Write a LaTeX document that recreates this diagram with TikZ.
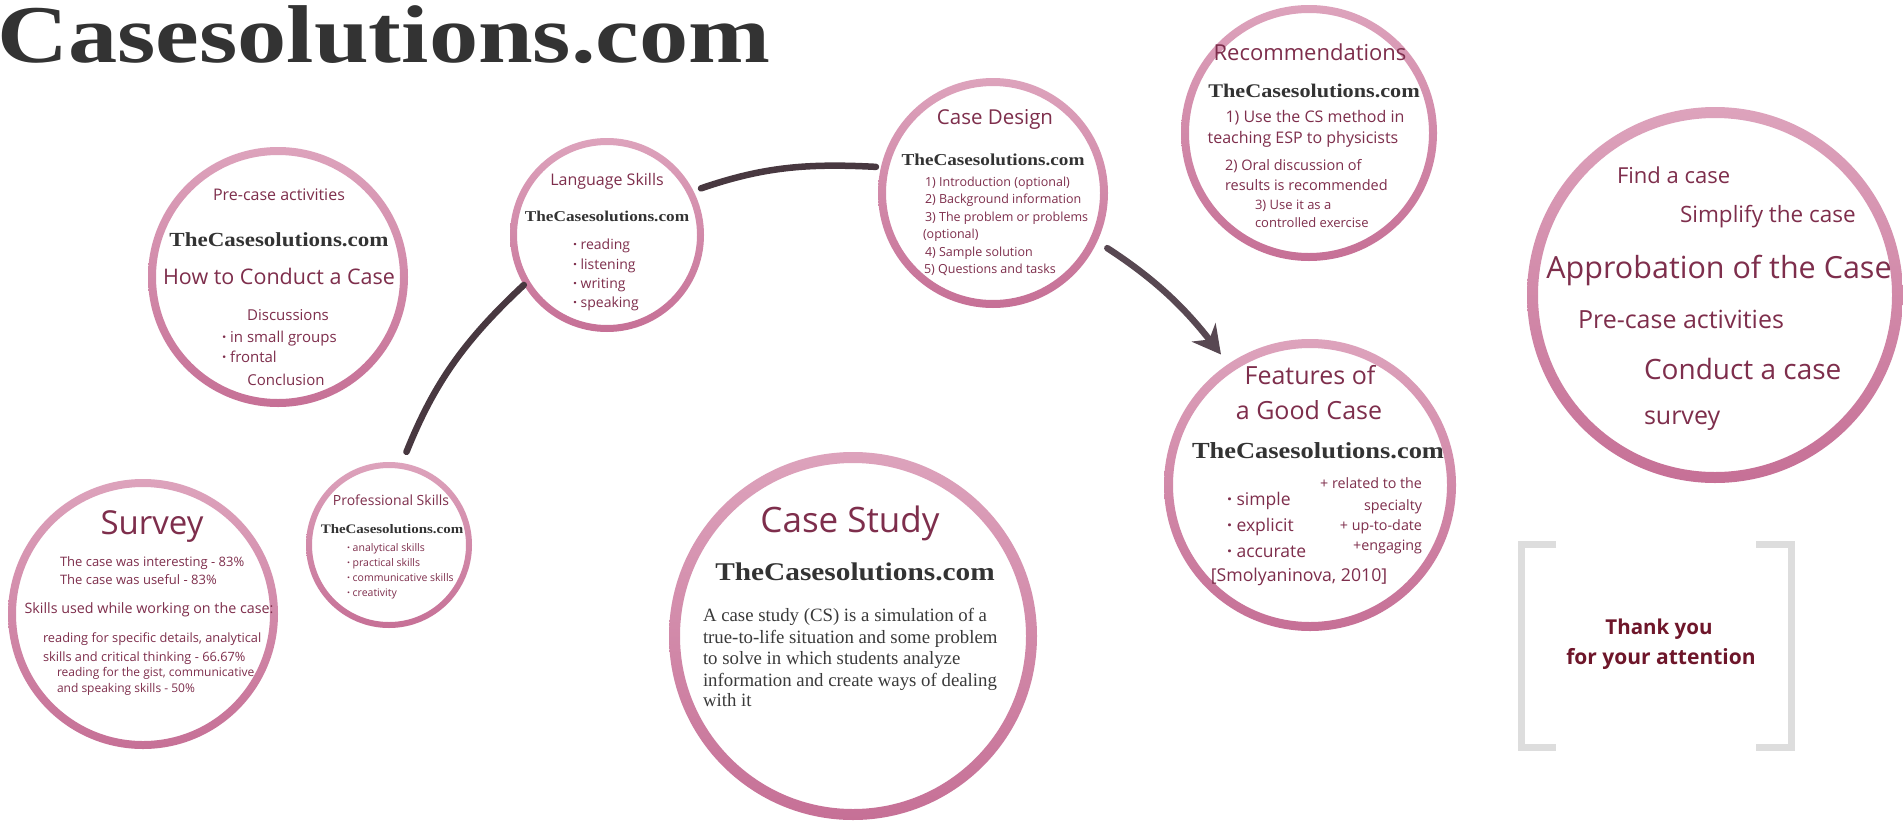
\documentclass[tikz,border=0pt]{standalone}
\usepackage{fontspec}
\setmainfont{Open Sans}
\newfontfamily\serifA{Liberation Serif}
\usetikzlibrary{arrows.meta}
\definecolor{txt}{RGB}{126,46,76}
\definecolor{dark}{RGB}{51,51,51}
\definecolor{para}{RGB}{58,58,58}
\definecolor{ringtop}{RGB}{221,163,188}
\definecolor{ringbot}{RGB}{198,112,150}
\definecolor{conn}{RGB}{72,56,64}
\definecolor{connarrow}{RGB}{88,72,82}
\definecolor{brk}{RGB}{221,221,221}
\definecolor{thx}{RGB}{110,22,42}
\newcommand{\fsz}[1]{\fontsize{#1}{#1}\selectfont}
\newcommand{\tcs}[1]{{\serifA\bfseries\fsz{#1}\color{dark}\scalebox{1.15}[1]{TheCasesolutions.com}}}
\newcommand{\bul}{{\bfseries\textperiodcentered}\ }
\newcommand{\ring}[3]{\shade[top color=ringtop, bottom color=ringbot, even odd rule] (#1.center) circle[radius=#2pt] (#1.center) circle[radius=#2pt-#3pt];}
\tikzset{
  lbl/.style={inner sep=0, outer sep=0, text=txt, anchor=base},
  lw/.style={lbl, anchor=base west},
  le/.style={lbl, anchor=base east},
  circ/.style={circle, inner sep=0, outer sep=0, minimum size=#1},
  conn/.style={draw=conn, line width=6.5pt, line cap=round},
  parafont/.style={lw, text=para, font={\serifA\fsz{18.8}}},
}
\begin{document}
\begin{tikzpicture}[x=1pt, y=1pt]
\clip (0,0) rectangle (1903,-822);
\fill[white] (0,0) rectangle (1903,-822);

% title
\node[inner sep=0, anchor=base west, text=dark] (title) at (-3,-62)
  {\serifA\bfseries\fsz{82}\scalebox{1.2}[1]{Casesolutions.com}};

% circles
\node[circ=260pt] (conduct) at (278,-277) {};
\node[circ=194pt] (lang) at (607,-235) {};
\node[circ=230pt] (design) at (993,-193) {};
\node[circ=256pt] (recom) at (1309,-133) {};
\node[circ=376pt] (approb) at (1715,-295) {};
\node[circ=270pt] (survey) at (143,-614) {};
\node[circ=166pt] (prof) at (389,-545) {};
\node[circ=368pt] (study) at (853,-636) {};
\node[circ=292pt] (feat) at (1310,-485) {};

\ring{conduct}{130}{8}
\ring{lang}{97}{7}
\ring{design}{115}{8}
\ring{recom}{128}{8}
\ring{approb}{188}{11}
\ring{survey}{135}{8}
\ring{prof}{83}{6}
\ring{study}{184}{11}
\ring{feat}{146}{9}

% connectors
\draw[conn, shorten <=12pt] (prof.81) to[out=68, in=223] (lang.211);
\draw[conn, shorten <=8pt, shorten >=5pt] (lang.27) to[out=19, in=177] (design.167);
\draw[conn, draw=connarrow, shorten <=12pt, shorten >=12pt,
  -{Stealth[length=28pt, width=30pt, inset=9pt]}] (design.335) to[out=-33, in=128] (feat.124);

% How to Conduct a Case
\node[lbl, font={\fsz{16}}] (c1a) at (279,-200) {Pre-case activities};
\node[lbl] (c1b) at (279,-246) {\tcs{20}};
\node[lbl, font={\fsz{21.5}}] (c1c) at (279,-284.5) {How to Conduct a Case};
\node[lbl, font={\fsz{15}}] (c1d) at (288,-320) {Discussions};
\node[lw, font={\fsz{15}}] (c1e) at (222,-342) {\bul in small groups};
\node[lw, font={\fsz{15}}] (c1f) at (222,-362) {\bul frontal};
\node[lbl, font={\fsz{15}}] (c1g) at (286,-385) {Conclusion};

% Language Skills
\node[lbl, font={\fsz{16}}] (c2a) at (607,-185) {Language Skills};
\node[lbl] (c2b) at (607,-221) {\tcs{15}};
\node[lw, font={\fsz{14}}] (c2c) at (573,-249) {\bul reading};
\node[lw, font={\fsz{14}}] (c2d) at (573,-269) {\bul listening};
\node[lw, font={\fsz{14}}] (c2e) at (573,-288) {\bul writing};
\node[lw, font={\fsz{14}}] (c2f) at (573,-307) {\bul speaking};

% Case Design
\node[lbl, font={\fsz{20.5}}] (c3a) at (995,-124) {Case Design};
\node[lbl] (c3b) at (993,-165) {\tcs{16.7}};
\node[lw, font={\fsz{12.5}}] (c3c) at (925,-186) {1) Introduction (optional)};
\node[lw, font={\fsz{12.5}}] (c3d) at (925,-203) {2) Background information};
\node[lw, font={\fsz{12.5}}] (c3e) at (925,-221) {3) The problem or problems};
\node[lw, font={\fsz{12.5}}] (c3f) at (923,-238) {(optional)};
\node[lw, font={\fsz{12.5}}] (c3g) at (925,-256) {4) Sample solution};
\node[lw, font={\fsz{12.5}}] (c3h) at (924,-273) {5) Questions and tasks};

% Recommendations
\node[lbl, font={\fsz{22}}] (c4a) at (1310,-60) {Recommendations};
\node[lbl] (c4b) at (1314,-97) {\tcs{19.3}};
\node[lbl, font={\fsz{16}}] (c4c) at (1315,-122) {1) Use the CS method in};
\node[lbl, font={\fsz{16}}] (c4d) at (1303,-143) {teaching ESP to physicists};
\node[lw, font={\fsz{14.5}}] (c4e) at (1225,-170) {2) Oral discussion of};
\node[lw, font={\fsz{14.5}}] (c4f) at (1225,-190) {results is recommended};
\node[lw, font={\fsz{13}}] (c4g) at (1255,-209) {3) Use it as a};
\node[lw, font={\fsz{13}}] (c4h) at (1255,-227) {controlled exercise};

% Approbation of the Case
\node[lw, font={\fsz{22}}] (c5a) at (1617,-183) {Find a case};
\node[lw, font={\fsz{22.5}}] (c5b) at (1680,-222) {Simplify the case};
\node[lbl, font={\fsz{30.5}}] (c5c) at (1719,-278) {Approbation of the Case};
\node[lw, font={\fsz{25}}] (c5d) at (1578,-328) {Pre-case activities};
\node[lw, font={\fsz{28}}] (c5e) at (1644,-379) {Conduct a case};
\node[lw, font={\fsz{25}}] (c5f) at (1644,-424) {survey};

% Survey
\node[lbl, font={\fsz{33}}] (c6a) at (152,-534) {Survey};
\node[lw, font={\fsz{13}}] (c6b) at (60,-566) {The case was interesting - 83\%};
\node[lw, font={\fsz{13}}] (c6c) at (60,-584) {The case was useful - 83\%};
\node[lbl, font={\fsz{14.3}}] (c6d) at (149,-613) {Skills used while working on the case:};
\node[lw, font={\fsz{12.8}}] (c6e) at (43,-642) {reading for specific details, analytical};
\node[lw, font={\fsz{12.8}}] (c6f) at (43,-661) {skills and critical thinking - 66.67\%};
\node[lw, font={\fsz{12}}] (c6g) at (57,-676) {reading for the gist, communicative};
\node[lw, font={\fsz{12}}] (c6h) at (57,-692) {and speaking skills - 50\%};

% Professional Skills
\node[lbl, font={\fsz{14}}] (c7a) at (391,-505) {Professional Skills};
\node[lbl] (c7b) at (392,-533.5) {\tcs{13}};
\node[lw, font={\fsz{10.5}}] (c7c) at (347,-551) {\bul analytical skills};
\node[lw, font={\fsz{10.5}}] (c7d) at (347,-566) {\bul practical skills};
\node[lw, font={\fsz{10.5}}] (c7e) at (347,-581) {\bul communicative skills};
\node[lw, font={\fsz{10.5}}] (c7f) at (347,-596) {\bul creativity};

% Case Study
\node[lbl, font={\fsz{35}}] (c8a) at (850,-532) {Case Study};
\node[lbl] (c8b) at (855,-580) {\tcs{25.5}};
\node[parafont] (c8c) at (703,-621) {A case study (CS) is a simulation of a};
\node[parafont] (c8d) at (703,-643) {true-to-life situation and some problem};
\node[parafont] (c8e) at (703,-664) {to solve in which students analyze};
\node[parafont] (c8f) at (703,-686) {information and create ways of dealing};
\node[parafont] (c8g) at (703,-706) {with it};

% Features of a Good Case
\node[lbl, font={\fsz{25}}] (c9a) at (1310,-384) {Features of};
\node[lbl, font={\fsz{25}}] (c9b) at (1309,-419) {a Good Case};
\node[lbl] (c9c) at (1318,-458) {\tcs{23}};
\node[lw, font={\fsz{17.5}}] (c9d) at (1227,-505) {\bul simple};
\node[lw, font={\fsz{17.5}}] (c9e) at (1227,-531) {\bul explicit};
\node[lw, font={\fsz{17.5}}] (c9f) at (1227,-557) {\bul accurate};
\node[le, font={\fsz{14.3}}] (c9g) at (1422,-488) {+ related to the};
\node[le, font={\fsz{14.3}}] (c9h) at (1422,-510) {specialty};
\node[le, font={\fsz{14.3}}] (c9i) at (1422,-530) {+ up-to-date};
\node[le, font={\fsz{14.3}}] (c9j) at (1422,-550) {+engaging};
\node[lbl, font={\fsz{17.7}}] (c9k) at (1299,-581) {[Smolyaninova, 2010]};

% Thank you
\draw[brk, line width=7pt] (1556,-544) -- (1521,-544) -- (1521,-747) -- (1556,-747);
\draw[brk, line width=7pt] (1756,-544) -- (1791,-544) -- (1791,-747) -- (1756,-747);
\node[lbl, text=thx, font={\bfseries\fsz{20.5}}] (ty1) at (1659,-634) {Thank you};
\node[lbl, text=thx, font={\bfseries\fsz{21}}] (ty2) at (1661,-664) {for your attention};
\end{tikzpicture}
\end{document}
